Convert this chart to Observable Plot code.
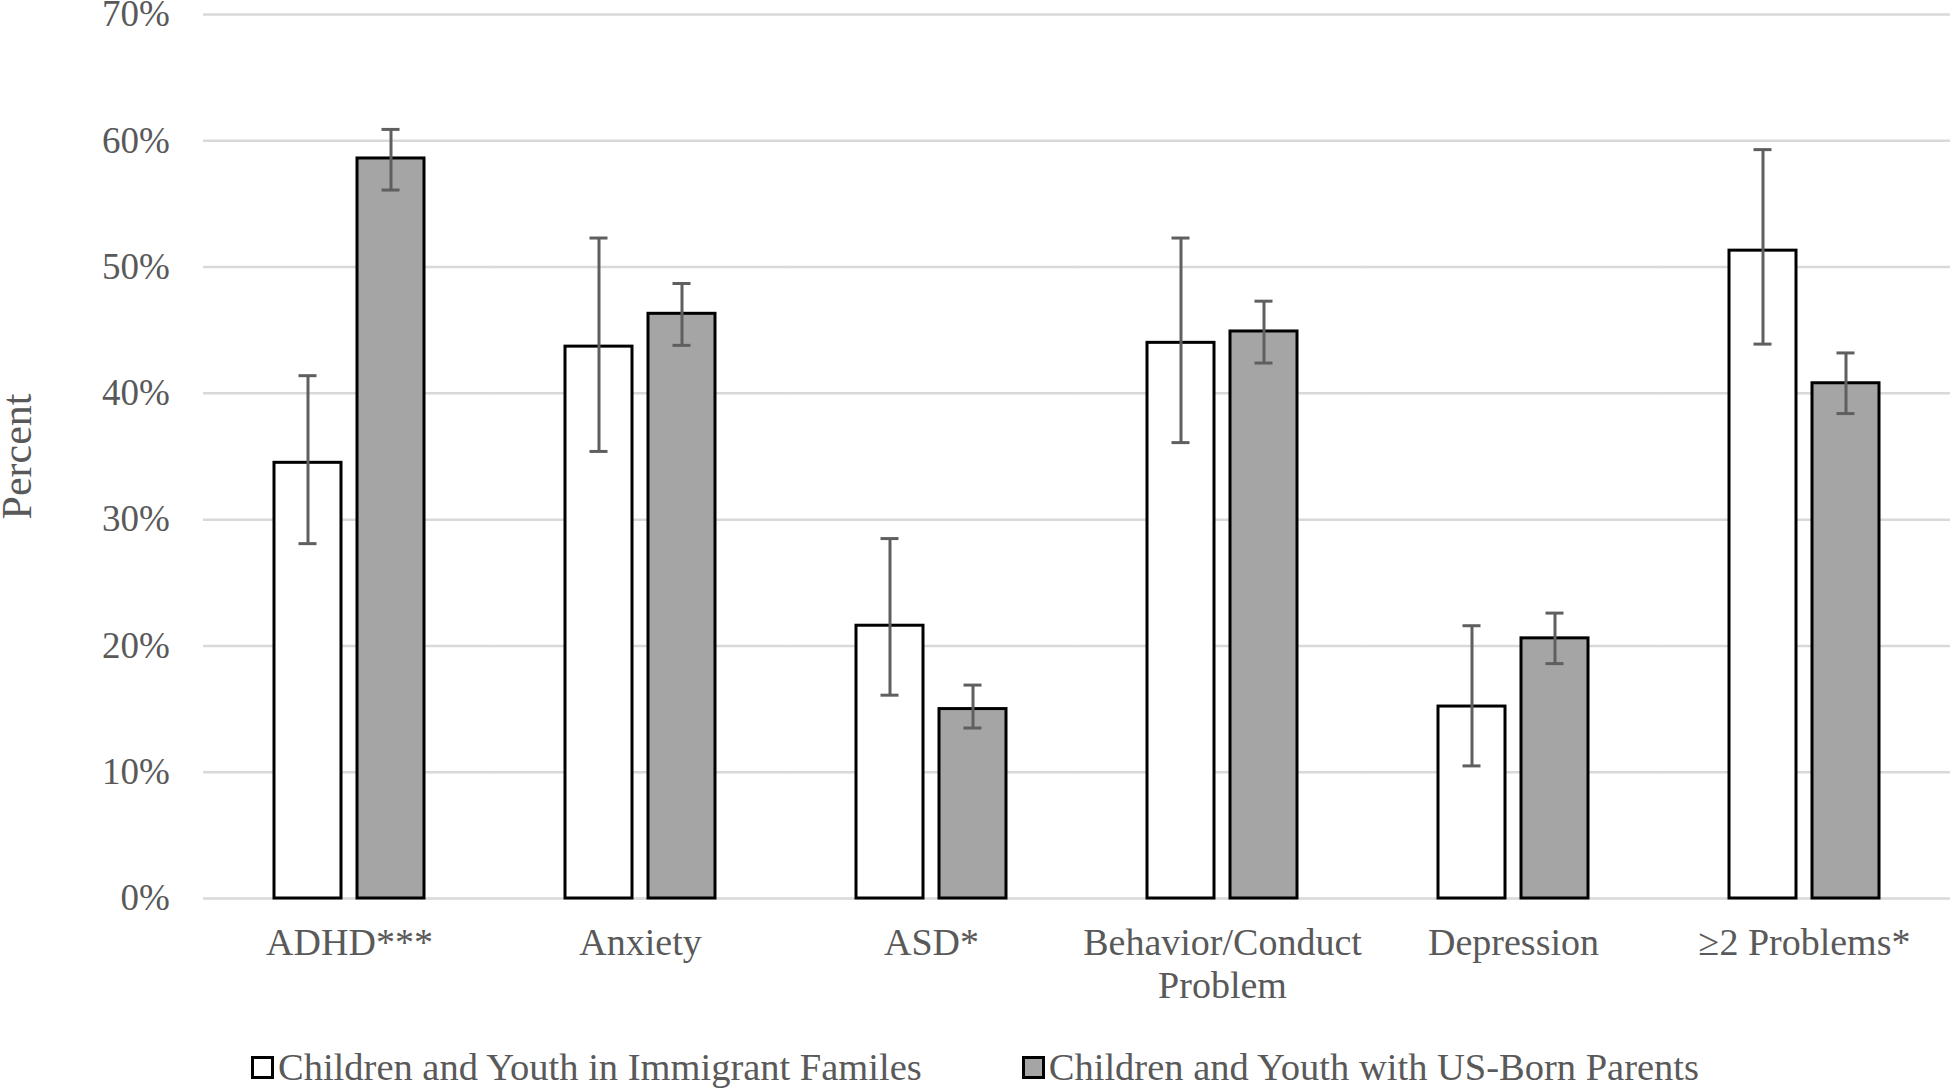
<!DOCTYPE html>
<html>
<head>
<meta charset="utf-8">
<script src="https://cdn.jsdelivr.net/npm/d3@7"></script>
<script src="https://cdn.jsdelivr.net/npm/@observablehq/plot@0.6"></script>
<style>
  body { margin: 0; background: #ffffff; font-family: "Liberation Serif", "Times New Roman", serif; }
  #chart svg { display: block; }
  #legend { display: flex; justify-content: center; align-items: center; height: 94px; color: #595959; font-size: 38.5px; font-family: "Liberation Serif", "Times New Roman", serif; }
  .item { display: flex; align-items: center; white-space: nowrap; }
  .item + .item { margin-left: 100px; }
  .sw { width: 17px; height: 17px; border: 3px solid #000; margin-right: 4px; box-sizing: content-box; }
</style>
</head>
<body>
<div id="chart"></div>
<div id="legend"></div>
<script>
// ---- data ----
const categories = ["ADHD***", "Anxiety", "ASD*", "Behavior/Conduct Problem", "Depression", "≥2 Problems*"];
const categoryLabels = ["ADHD***", "Anxiety", "ASD*", "Behavior/Conduct\nProblem", "Depression", "≥2 Problems*"];
const seriesNames = ["Children and Youth in Immigrant Familes", "Children and Youth with US-Born Parents"];
const seriesColors = ["#ffffff", "#a5a5a5"];

const immigrant     = [34.5, 43.7, 21.6, 44.0, 15.2, 51.3];
const immigrantLow  = [28.1, 35.4, 16.1, 36.1, 10.5, 43.9];
const immigrantHigh = [41.4, 52.3, 28.5, 52.3, 21.6, 59.3];

const usBorn     = [58.6, 46.3, 15.0, 44.9, 20.6, 40.8];
const usBornLow  = [56.1, 43.8, 13.5, 42.4, 18.6, 38.4];
const usBornHigh = [60.9, 48.7, 16.9, 47.3, 22.6, 43.2];

const yTicks = [0, 10, 20, 30, 40, 50, 60, 70];
const yTitle = "Percent";

// ---- table for Plot ----
const rows = [];
categories.forEach((c, i) => {
  rows.push({category: c, series: seriesNames[0], value: immigrant[i], lo: immigrantLow[i], hi: immigrantHigh[i]});
  rows.push({category: c, series: seriesNames[1], value: usBorn[i], lo: usBornLow[i], hi: usBornHigh[i]});
});
const labelMap = new Map(categories.map((c, i) => [c, categoryLabels[i]]));

const textColor = "#595959";
const errColor = "#5f5f5f";
const font = "'Liberation Serif', 'Times New Roman', serif";

const chart = Plot.plot({
  width: 1950,
  height: 1020,
  marginLeft: 202,
  marginRight: 0,
  marginTop: 14,
  marginBottom: 122,
  style: {fontFamily: font, fontSize: "38px", color: textColor, background: "#ffffff"},
  fx: {domain: categories, paddingInner: 0.4854, paddingOuter: 0.2427, label: null},
  x: {domain: seriesNames, paddingInner: 0.193, paddingOuter: 0, axis: null},
  y: {domain: [0, 70]},
  color: {domain: seriesNames, range: seriesColors},
  marks: [
    // gridlines: drawn in every facet and stretched over the gaps between facets
    Plot.ruleY(yTicks, {y: d => d, stroke: "#d9d9d9", strokeWidth: 2.5, insetLeft: -71, insetRight: -71}),
    Plot.axisY({ticks: yTicks, tickFormat: d => d + "%", tickSize: 0, tickPadding: 104.7, fontSize: 37, fill: textColor, label: null}),
    Plot.text([yTitle], {frameAnchor: "left", rotate: -90, textAnchor: "middle", lineAnchor: "top", dx: -273, fontSize: 42, fill: textColor, facetAnchor: "left"}),
    Plot.barY(rows, {fx: "category", x: "series", y: "value", fill: "series", stroke: "#000000", strokeWidth: 3}),
    Plot.ruleX(rows, {fx: "category", x: "series", y1: "lo", y2: "hi", stroke: errColor, strokeWidth: 3}),
    Plot.tickY(rows, {fx: "category", x: "series", y: "lo", stroke: errColor, strokeWidth: 3, insetLeft: 24.5, insetRight: 24.5}),
    Plot.tickY(rows, {fx: "category", x: "series", y: "hi", stroke: errColor, strokeWidth: 3, insetLeft: 24.5, insetRight: 24.5}),
    Plot.axisFx({anchor: "bottom", tickSize: 0, tickPadding: 26, tickFormat: d => labelMap.get(d), lineHeight: 1.13, fontSize: 38, fill: textColor, label: null})
  ]
});
document.getElementById("chart").appendChild(chart);

// ---- legend ----
const legend = document.getElementById("legend");
seriesNames.forEach((name, i) => {
  const item = document.createElement("div");
  item.className = "item";
  const sw = document.createElement("span");
  sw.className = "sw";
  sw.style.background = seriesColors[i];
  const label = document.createElement("span");
  label.textContent = name;
  item.appendChild(sw);
  item.appendChild(label);
  legend.appendChild(item);
});
</script>
</body>
</html>
